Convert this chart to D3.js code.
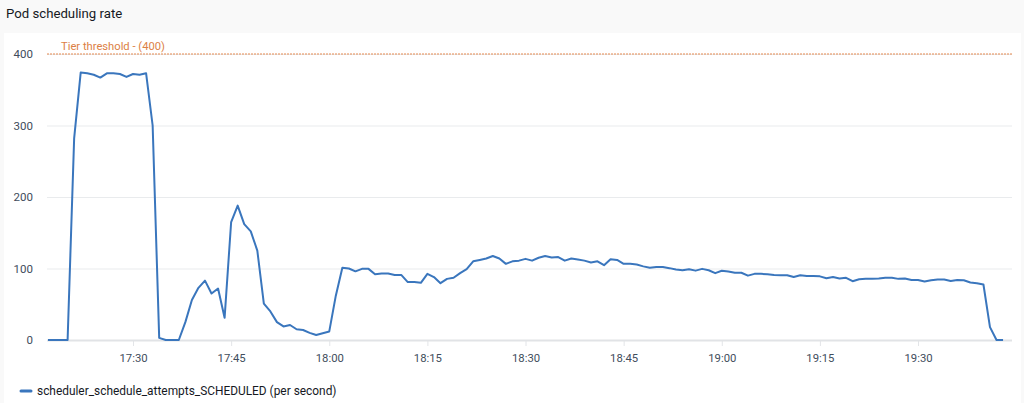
<!DOCTYPE html>
<html><head><meta charset="utf-8">
<script src="https://cdn.jsdelivr.net/npm/d3@7"></script>
<style>
html,body{margin:0;padding:0;background:#f9f9f9;}
svg{display:block;font-family:Roboto,"Open Sans",sans-serif;}
</style></head>
<body>
<svg id="c" width="1024" height="403"></svg>
<script>
const title = "Pod scheduling rate";
const seriesName = "scheduler_schedule_attempts_SCHEDULED (per second)";
const thresholdLabel = "Tier threshold - (400)";
const thresholdValue = 400;
const startTime = "2024-01-01T17:17:00";
const periodMinutes = 1;
const values = [0,0,0,0,282,374,373,371,367,373,373,372,368,372,371,373,300,3,0,0,
  0,25,56,73,83,65,72,31,165,188,162,152,125,51,40,25,19,21,15,14,
  10,7,9.5,12,62,101,100,96,99.5,99.5,92,93,93,91,91,81,81,80,92.5,88,
  79.5,85.5,87,93.5,99,110,112,114,117.5,114,106.5,110,111,113.5,111,115,117.5,115.5,116,111,
  114,112.6,111,108.5,110,104.6,113,112,106.6,106.6,105.6,103,101,102,102,100.5,98.6,97.6,99,97,
  99.5,97.6,93.5,96.8,95.7,94,94,90,92.5,92.5,92,91,90.6,90.6,88,90.6,89.6,89.6,89,86.4,
  88,86,87,82.2,85,85.5,85.5,86,87,87,85.5,86,84,84,81.8,83.5,84.6,84.6,82.5,84,
  83.5,80.4,79.4,77.6,18,0,0];
const yTicks = [0,100,200,300,400];
const xTickLabels = ["17:30","17:45","18:00","18:15","18:30","18:45","19:00","19:15","19:30"];
const xDomain = ["2024-01-01T17:16:51","2024-01-01T19:44:22"];

const svg = d3.select("#c");
const W = 1024, H = 403;
const mLeft = 47, mRight = 1012, mTop = 54, mBottom = 340;
const FONT = "Roboto, 'Open Sans', sans-serif";

svg.append("rect").attr("x",4).attr("y",33).attr("width",1017).attr("height",H-33).attr("fill","#fff");
svg.append("text").attr("x",6).attr("y",18).attr("font-size",13.2).attr("fill","#16191f").text(title);

const parse = d3.isoParse;
const t0 = parse(startTime);
const data = values.map((v,i)=>({t:new Date(t0.getTime()+i*periodMinutes*60000), v}));

const x = d3.scaleTime().domain(xDomain.map(parse)).range([mLeft,mRight]);
const y = d3.scaleLinear().domain([0,400]).range([mBottom,mTop]);

// gridlines
svg.append("g").selectAll("line").data(yTicks.filter(d=>d>0)).join("line")
  .attr("x1",mLeft).attr("x2",mRight).attr("y1",d=>y(d)+0.5).attr("y2",d=>y(d)+0.5)
  .attr("stroke","#e9ebed").attr("stroke-width",1);

// y axis labels
const yAxis = d3.axisLeft(y).tickValues(yTicks).tickSize(0).tickPadding(0);
const gy = svg.append("g").attr("transform",`translate(33,0)`).call(yAxis);
gy.select(".domain").remove();
gy.selectAll("text").attr("font-size",11.5).attr("fill","#414d5c").attr("font-family",FONT);

// x axis
const xTicks = xTickLabels.map(s=>parse("2024-01-01T"+s+":00"));
const xAxis = d3.axisBottom(x).tickValues(xTicks).tickFormat(d3.timeFormat("%H:%M")).tickSize(6).tickPadding(6);
const gx = svg.append("g").attr("transform",`translate(0,${mBottom})`).call(xAxis);
gx.select(".domain").remove();
gx.selectAll(".tick line").attr("stroke","#e3e5e8");
gx.selectAll("text").attr("font-size",11.3).attr("fill","#414d5c").attr("font-family",FONT).attr("dy","0.9em");
svg.append("line").attr("x1",mLeft).attr("x2",mRight).attr("y1",mBottom+0.5).attr("y2",mBottom+0.5)
  .attr("stroke","#e1e3e6").attr("stroke-width",2);

// threshold
svg.append("line").attr("x1",mLeft).attr("x2",mRight).attr("y1",y(thresholdValue)).attr("y2",y(thresholdValue))
  .attr("stroke","#e58a50").attr("stroke-width",1.2).attr("stroke-dasharray","2,1");
svg.append("text").attr("x",61).attr("y",y(thresholdValue)-4).attr("font-size",11.2)
  .attr("fill","#dc7f45").text(thresholdLabel);

// series line
const line = d3.line().x(d=>x(d.t)).y(d=>y(d.v));
svg.append("path").datum(data).attr("d",line).attr("fill","none")
  .attr("stroke","#3a76bd").attr("stroke-width",2).attr("stroke-linejoin","round");

// legend
svg.append("line").attr("x1",21).attr("x2",31).attr("y1",391).attr("y2",391)
  .attr("stroke","#3a76bd").attr("stroke-width",3).attr("stroke-linecap","round");
svg.append("text").attr("x",37).attr("y",395).attr("font-size",11.9).attr("fill","#16191f").text(seriesName);
</script>
</body></html>
